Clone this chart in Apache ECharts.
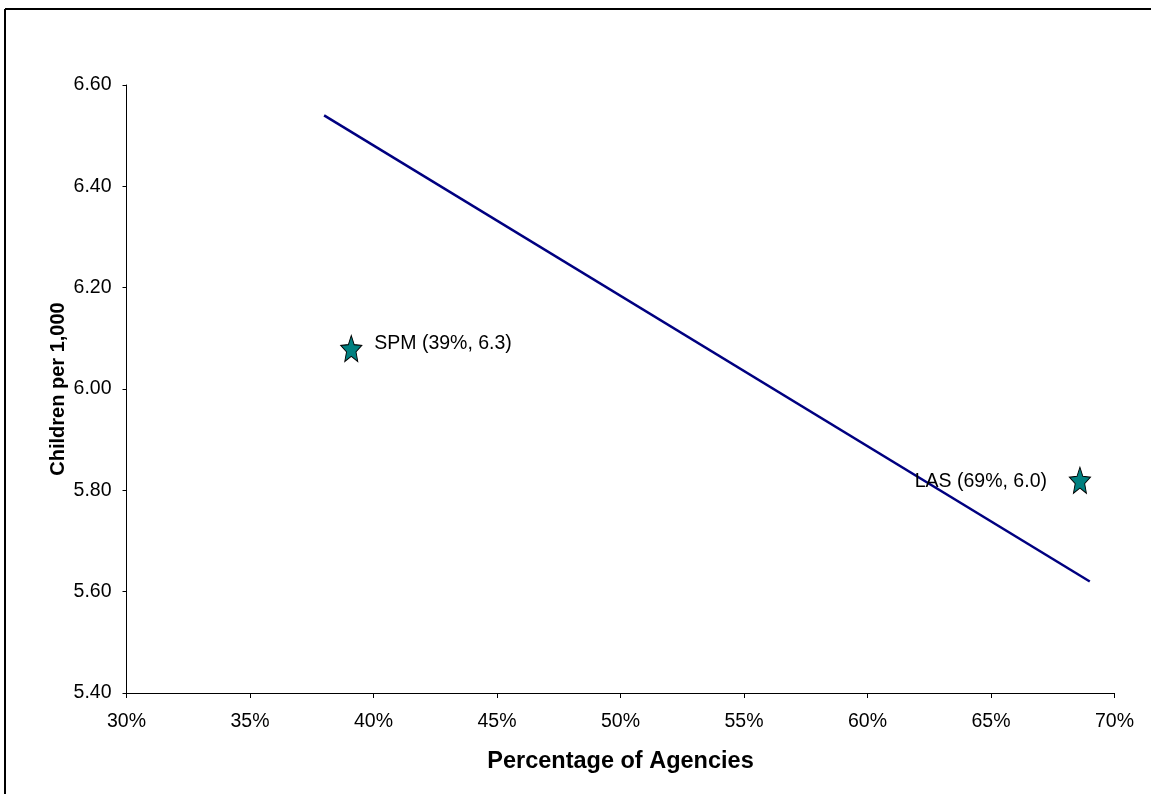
<!DOCTYPE html>
<html>
<head>
<meta charset="utf-8">
<script src="https://cdn.jsdelivr.net/npm/echarts@6/dist/echarts.min.js"></script>
<style>
html,body{margin:0;padding:0;background:#fff;}
#chart{width:1151px;height:794px;}
</style>
</head>
<body>
<div id="chart"></div>
<script>
// Data
const pointNames = ['SPM', 'LAS'];
const pctAgencies = [39.1, 68.6];
const childrenPer1000 = [6.08, 5.82];
const pointLabels = ['SPM (39%, 6.3)', 'LAS (69%, 6.0)'];
const trendX = [38.0, 69.0];
const trendY = [6.54, 5.62];
const xTickMin = 30, xTickMax = 70, xTickStep = 5;
const yTickMin = 5.4, yTickMax = 6.6, yTickStep = 0.2;
const xTitle = 'Percentage of Agencies';
const yTitle = 'Children per 1,000';

const FONT = '"Liberation Sans", Arial, sans-serif';
// five-point star, inner radius 0.45 of outer
const starPath = 'path://M100 0 L126.45 63.6 L195.1 69.1 L142.8 113.9 L158.8 180.9 L100 145 L41.2 180.9 L57.2 113.9 L4.9 69.1 L73.55 63.6 Z';

const labelPos = ['right', 'left'];
const labelDist = [12, 22];
const labelOffset = [[0, -5], [0, 1]];

const scatterData = pctAgencies.map((x, i) => ({
  name: pointNames[i],
  value: [x, childrenPer1000[i]],
  label: {
    show: true,
    formatter: pointLabels[i],
    position: labelPos[i],
    distance: labelDist[i],
    offset: labelOffset[i]
  }
}));
const trendData = trendX.map((x, i) => [x, trendY[i]]);

const chart = echarts.init(document.getElementById('chart'), null, {renderer: 'canvas'});
chart.setOption({
  animation: false,
  backgroundColor: '#ffffff',
  textStyle: {fontFamily: FONT},
  grid: {left: 126.5, right: 36.5, top: 85, bottom: 101, containLabel: false},
  xAxis: {
    type: 'value',
    min: xTickMin, max: xTickMax, interval: xTickStep,
    name: xTitle,
    nameLocation: 'middle',
    nameGap: 57,
    nameMoveOverlap: false,
    nameTextStyle: {fontFamily: FONT, fontSize: 23.5, fontWeight: 'bold', color: '#000'},
    axisLine: {show: true, onZero: false, lineStyle: {color: '#000', width: 1}},
    axisTick: {show: true, inside: false, length: 5, lineStyle: {color: '#000'}},
    axisLabel: {fontFamily: FONT, fontSize: 19.5, color: '#000', margin: 19, formatter: v => v + '%'},
    splitLine: {show: false}
  },
  yAxis: {
    type: 'value',
    min: yTickMin, max: yTickMax, interval: yTickStep,
    name: yTitle,
    nameLocation: 'middle',
    nameGap: 58,
    nameMoveOverlap: false,
    nameTextStyle: {fontFamily: FONT, fontSize: 20, fontWeight: 'bold', color: '#000'},
    axisLine: {show: true, onZero: false, lineStyle: {color: '#000', width: 1}},
    axisTick: {show: true, inside: false, length: 4, lineStyle: {color: '#000'}},
    axisLabel: {fontFamily: FONT, fontSize: 19.5, color: '#000', margin: 15, formatter: v => v.toFixed(2)},
    splitLine: {show: false}
  },
  graphic: [
    {type: 'line', shape: {x1: 5, y1: 9, x2: 1151, y2: 9}, style: {stroke: '#000', lineWidth: 2}, z: 100},
    {type: 'line', shape: {x1: 5, y1: 9, x2: 5, y2: 794}, style: {stroke: '#000', lineWidth: 2}, z: 100}
  ],
  series: [
    {
      type: 'line',
      data: trendData,
      symbol: 'none',
      lineStyle: {color: '#000080', width: 2.5},
      z: 2
    },
    {
      type: 'scatter',
      data: scatterData,
      symbol: starPath,
      symbolSize: [21, 26],
      itemStyle: {color: '#008080', borderColor: '#000', borderWidth: 1, opacity: 1},
      label: {fontFamily: FONT, fontSize: 19.5, color: '#000'},
      z: 3
    }
  ]
});
</script>
</body>
</html>
